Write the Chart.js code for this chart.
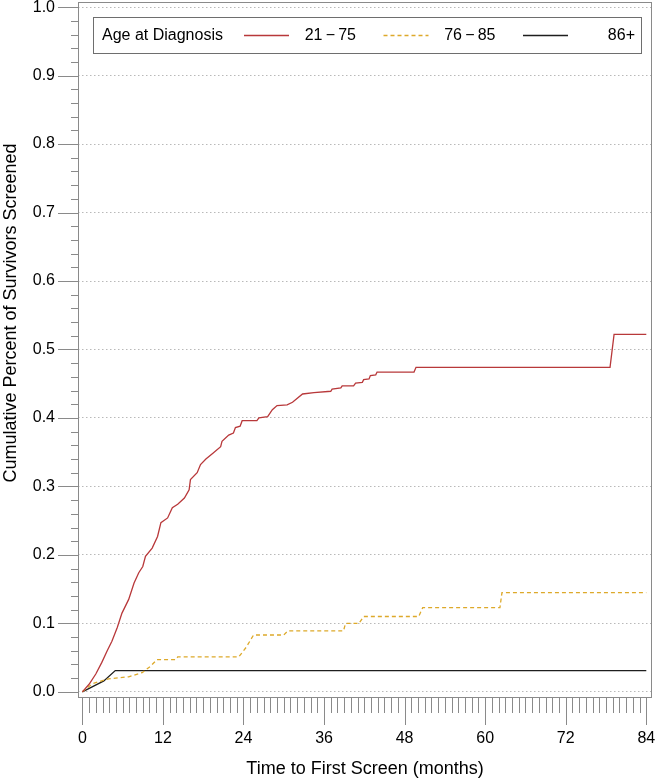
<!DOCTYPE html>
<html>
<head>
<meta charset="utf-8">
<title>Cumulative screening by age at diagnosis</title>
<script src="https://cdn.jsdelivr.net/npm/chart.js@4.4.1/dist/chart.umd.min.js"></script>
<style>
  html, body { margin: 0; padding: 0; background: #fff; }
  #wrap { width: 656px; height: 780px; }
</style>
</head>
<body>
<div id="wrap"><canvas id="kmChart" width="656" height="780"></canvas></div>
<script>
// age groups
var groupLabels = ['21\u2009\u2212\u200975', '76\u2009\u2212\u200985', '86+'];
var groupColors = ['#b8383a', '#dda92a', '#1e1e1e'];

// 21-75: months / cumulative share screened
var monthsYoung = [0, 1.0, 2.0, 2.9, 3.7, 4.4, 5.2, 5.9, 6.9, 7.7, 8.4, 9.0, 9.4, 10.4, 11.2, 11.7,
  12.7, 13.4, 14.2, 15.2, 15.9, 16.1, 17.1, 17.6, 18.4, 19.4, 20.6, 20.8, 21.8, 22.5, 22.8, 23.5,
  23.8, 26.0, 26.3, 27.6, 28.3, 29.0, 30.5, 31.3, 32.8, 34.5, 37.0, 37.2, 38.5, 38.7, 40.4, 40.7,
  41.7, 41.9, 42.7, 42.9, 43.7, 43.9, 49.4, 49.7, 78.6, 79.2, 84];
var screenedYoung = [0, 0.011, 0.026, 0.043, 0.060, 0.074, 0.094, 0.115, 0.135, 0.159, 0.174, 0.183, 0.198, 0.210, 0.227, 0.247,
  0.254, 0.269, 0.274, 0.283, 0.295, 0.310, 0.320, 0.332, 0.340, 0.348, 0.358, 0.366, 0.375, 0.378, 0.386, 0.388,
  0.396, 0.396, 0.400, 0.402, 0.412, 0.418, 0.419, 0.423, 0.435, 0.437, 0.439, 0.442, 0.444, 0.447, 0.447, 0.451,
  0.452, 0.456, 0.457, 0.462, 0.463, 0.467, 0.467, 0.474, 0.474, 0.522, 0.522];

// 76-85
var monthsMid = [0, 1.5, 3.9, 6.9, 8.9, 10.1, 11.1, 13.9, 14.2, 23.3, 24.4, 25.5, 30.0, 30.6, 38.9, 39.2,
  41.2, 41.9, 50.1, 50.7, 62.2, 62.5, 84];
var screenedMid = [0, 0.012, 0.019, 0.022, 0.028, 0.037, 0.047, 0.047, 0.051, 0.051, 0.065, 0.083, 0.083, 0.089, 0.089, 0.100,
  0.100, 0.110, 0.110, 0.123, 0.123, 0.145, 0.145];

// 86+
var monthsOld = [0, 3.2, 4.9, 84];
var screenedOld = [0, 0.016, 0.031, 0.031];

var xTicks = [0, 12, 24, 36, 48, 60, 72, 84];
var yTicks = [0, 0.1, 0.2, 0.3, 0.4, 0.5, 0.6, 0.7, 0.8, 0.9, 1.0];

var fontFamily = '"Liberation Sans", Arial, sans-serif';

function toPoints(xs, ys) {
  return xs.map(function(x, i) { return { x: x, y: ys[i] }; });
}

// frame, minor/major tick marks, y title and the boxed legend
var sasDecor = {
  id: 'sasDecor',
  afterDraw: function(chart) {
    var ctx = chart.ctx;
    var area = chart.chartArea;
    var xs = chart.scales.x;
    var ys = chart.scales.y;

    ctx.save();
    ctx.strokeStyle = '#8a8a8a';
    ctx.lineWidth = 1;
    ctx.strokeRect(area.left + 0.5, area.top + 0.5, area.right - area.left - 1, area.bottom - area.top - 1);

    ctx.beginPath();
    for (var m = 0; m <= 84; m++) {
      var px = Math.round(xs.getPixelForValue(m)) + 0.5;
      var len = (m % 12 === 0) ? 27 : 15;
      ctx.moveTo(px, area.bottom);
      ctx.lineTo(px, area.bottom + len);
    }
    for (var k = 0; k <= 50; k++) {
      var py = Math.round(ys.getPixelForValue(k * 0.02)) + 0.5;
      var ylen = (k % 5 === 0) ? 20 : 7;
      ctx.moveTo(area.left - ylen, py);
      ctx.lineTo(area.left, py);
    }
    ctx.stroke();

    // y axis title
    ctx.fillStyle = '#000';
    ctx.font = '18px ' + fontFamily;
    ctx.textAlign = 'center';
    ctx.textBaseline = 'middle';
    ctx.save();
    ctx.translate(11, 313);
    ctx.rotate(-Math.PI / 2);
    ctx.fillText('Cumulative Percent of Survivors Screened', 0, 0);
    ctx.restore();

    // legend
    ctx.fillStyle = '#fff';
    ctx.fillRect(93, 17, 548, 36);
    ctx.strokeStyle = '#6e6e6e';
    ctx.strokeRect(93.5, 17.5, 548, 36);
    ctx.fillStyle = '#000';
    ctx.font = '16px ' + fontFamily;
    ctx.textAlign = 'left';
    ctx.fillText('Age at Diagnosis', 102, 36);
    chart.data.datasets.forEach(function(ds, i) {
      var x0 = 244 + i * 139.5;
      ctx.save();
      ctx.strokeStyle = groupColors[i];
      ctx.lineWidth = 1.4;
      ctx.setLineDash(i === 1 ? [4, 3] : []);
      ctx.beginPath();
      ctx.moveTo(x0, 35.5);
      ctx.lineTo(x0 + 45, 35.5);
      ctx.stroke();
      ctx.restore();
      ctx.textAlign = 'right';
      ctx.fillText(ds.label, x0 + 112, 36);
    });
    ctx.restore();
  }
};

var ctx = document.getElementById('kmChart');
new Chart(ctx, {
  type: 'line',
  data: {
    datasets: [
      {
        label: groupLabels[0],
        data: toPoints(monthsYoung, screenedYoung),
        borderColor: groupColors[0],
        borderWidth: 1.3
      },
      {
        label: groupLabels[1],
        data: toPoints(monthsMid, screenedMid),
        borderColor: groupColors[1],
        borderWidth: 1.3,
        borderDash: [4, 3]
      },
      {
        label: groupLabels[2],
        data: toPoints(monthsOld, screenedOld),
        borderColor: groupColors[2],
        borderWidth: 1.3
      }
    ]
  },
  options: {
    responsive: false,
    animation: false,
    events: [],
    elements: {
      point: { radius: 0 },
      line: { tension: 0, fill: false }
    },
    layout: { padding: { top: 2, right: 4, left: 0, bottom: 0 } },
    plugins: {
      legend: { display: false },
      tooltip: { enabled: false }
    },
    scales: {
      x: {
        type: 'linear',
        min: -0.65,
        max: 84.85,
        afterBuildTicks: function(scale) {
          scale.ticks = xTicks.map(function(v) { return { value: v }; });
        },
        afterFit: function(scale) {
          scale.height = 82;
          scale.paddingLeft = 0;
          scale.paddingRight = 0;
        },
        ticks: {
          autoSkip: false,
          maxRotation: 0,
          padding: 4,
          color: '#000',
          font: { family: fontFamily, size: 16 },
          callback: function(v) { return String(v); }
        },
        grid: {
          drawOnChartArea: false,
          drawTicks: true,
          tickLength: 27,
          tickColor: 'rgba(0,0,0,0)'
        },
        border: { display: false },
        title: {
          display: true,
          text: 'Time to First Screen (months)',
          color: '#000',
          font: { family: fontFamily, size: 18 },
          padding: { top: 0, bottom: 0 }
        }
      },
      y: {
        type: 'linear',
        min: -0.009,
        max: 1.0075,
        afterBuildTicks: function(scale) {
          scale.ticks = yTicks.map(function(v) { return { value: v }; });
        },
        afterFit: function(scale) {
          scale.width = 78;
          scale.paddingTop = 0;
          scale.paddingBottom = 0;
        },
        ticks: {
          padding: 3,
          color: '#000',
          font: { family: fontFamily, size: 16 },
          callback: function(v) { return v.toFixed(1); }
        },
        grid: {
          color: '#b9b9b9',
          lineWidth: 1,
          drawTicks: true,
          tickLength: 20,
          tickColor: 'rgba(0,0,0,0)'
        },
        border: { display: false, dash: [1.5, 2.5] }
      }
    }
  },
  plugins: [sasDecor]
});
</script>
</body>
</html>
